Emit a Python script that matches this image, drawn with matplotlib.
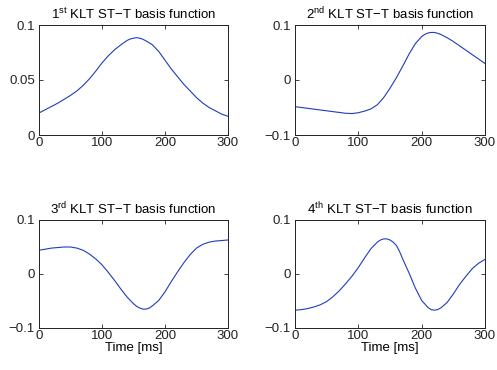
import numpy as np
import matplotlib
matplotlib.use("Agg")
from matplotlib import pyplot as plt

plt.rcParams['font.family'] = ['Liberation Sans', 'DejaVu Sans']
plt.rcParams['mathtext.fontset'] = 'custom'
plt.rcParams['mathtext.rm'] = 'Liberation Sans'
plt.rcParams['mathtext.it'] = 'Liberation Sans'

# time samples (ms) and the four basis functions
t1 = [0, 10, 20, 30, 40, 50, 60, 70, 80, 90, 100, 110, 120, 130, 140, 145, 150,
      155, 160, 165, 170, 180, 190, 200, 210, 220, 230, 240, 250, 260, 270, 280, 290, 300]
basis1 = [0.020, 0.023, 0.026, 0.029, 0.0325, 0.036, 0.040, 0.045, 0.051, 0.058,
          0.0655, 0.072, 0.0775, 0.082, 0.086, 0.0873, 0.088, 0.0885, 0.088, 0.087,
          0.0855, 0.082, 0.076, 0.068, 0.060, 0.053, 0.046, 0.040, 0.034, 0.029,
          0.025, 0.022, 0.019, 0.017]

t2 = [0, 10, 20, 30, 40, 50, 60, 70, 80, 90, 100, 110, 120, 130, 140, 150, 160,
      170, 180, 190, 200, 205, 210, 215, 220, 225, 230, 240, 250, 260, 270, 280, 290, 300]
basis2 = [-0.0485, -0.050, -0.0515, -0.053, -0.0545, -0.056, -0.0575, -0.059, -0.0605, -0.061,
          -0.0595, -0.0565, -0.0525, -0.045, -0.032, -0.015, 0.004, 0.025, 0.047, 0.066,
          0.079, 0.083, 0.0855, 0.0865, 0.0865, 0.085, 0.083, 0.077, 0.070, 0.062,
          0.054, 0.046, 0.038, 0.030]

t3 = [0, 10, 20, 30, 40, 50, 60, 70, 80, 90, 100, 110, 120, 130, 140, 150, 155,
      160, 165, 170, 175, 180, 190, 200, 210, 220, 230, 240, 250, 260, 270, 280, 290, 300]
basis3 = [0.044, 0.046, 0.048, 0.049, 0.050, 0.050, 0.048, 0.044, 0.037, 0.028,
          0.017, 0.003, -0.012, -0.028, -0.043, -0.055, -0.060, -0.063, -0.065, -0.065,
          -0.063, -0.059, -0.049, -0.033, -0.014, 0.004, 0.021, 0.036, 0.048, 0.055,
          0.059, 0.061, 0.062, 0.063]

t4 = [0, 10, 20, 30, 40, 50, 60, 70, 80, 90, 100, 110, 120, 130, 135, 140, 145,
      150, 155, 160, 165, 170, 180, 190, 200, 210, 215, 220, 225, 230, 240, 250, 260,
      270, 280, 290, 300]
basis4 = [-0.067, -0.066, -0.064, -0.061, -0.057, -0.051, -0.042, -0.031, -0.018, -0.004,
          0.012, 0.030, 0.047, 0.059, 0.063, 0.065, 0.065, 0.063, 0.059, 0.053,
          0.042, 0.028, 0.002, -0.026, -0.049, -0.062, -0.066, -0.067, -0.066, -0.063,
          -0.053, -0.037, -0.019, -0.004, 0.010, 0.020, 0.027]

titles = [r'1$^{\rm st}$ KLT ST$-$T basis function',
          r'2$^{\rm nd}$ KLT ST$-$T basis function',
          r'3$^{\rm rd}$ KLT ST$-$T basis function',
          r'4$^{\rm th}$ KLT ST$-$T basis function']
times = [t1, t2, t3, t4]
series = [basis1, basis2, basis3, basis4]
ylims = [(0, 0.1), (-0.1, 0.1), (-0.1, 0.1), (-0.1, 0.1)]
yticks = [[0, 0.05, 0.1], [-0.1, 0, 0.1], [-0.1, 0, 0.1], [-0.1, 0, 0.1]]
yticklabels = [['0', '0.05', '0.1'], ['\u22120.1', '0', '0.1'],
               ['\u22120.1', '0', '0.1'], ['\u22120.1', '0', '0.1']]

W, H = 497, 370
fig = plt.figure(figsize=(W / 100, H / 100), dpi=100)
# axes boxes in pixels: left, top, right, bottom
boxes = [(39, 25, 228, 135), (295, 25, 485, 135),
         (39, 220, 228, 328), (295, 220, 485, 328)]

fs = 9.5
for i, (l, tp, r, b) in enumerate(boxes):
    ax = fig.add_axes([l / W, 1 - b / H, (r - l) / W, (b - tp) / H])
    ax.plot(times[i], series[i], color='#1f3cc0', lw=0.8)
    ax.set_xlim(0, 300)
    ax.set_ylim(*ylims[i])
    ax.set_xticks([0, 100, 200, 300])
    ax.set_yticks(yticks[i])
    ax.set_yticklabels(yticklabels[i])
    ax.tick_params(direction='in', length=3, width=0.6, labelsize=fs,
                   top=True, right=True, colors='#222222')
    ax.tick_params(axis='x', pad=1.5)
    ax.tick_params(axis='y', pad=3)
    for s in ax.spines.values():
        s.set_linewidth(0.7)
        s.set_color('#222222')
    ax.set_title(titles[i], fontsize=fs, pad=4)
    if i >= 2:
        ax.set_xlabel('Time [ms]', fontsize=fs, labelpad=0)

fig.savefig('out.png', dpi=100)
